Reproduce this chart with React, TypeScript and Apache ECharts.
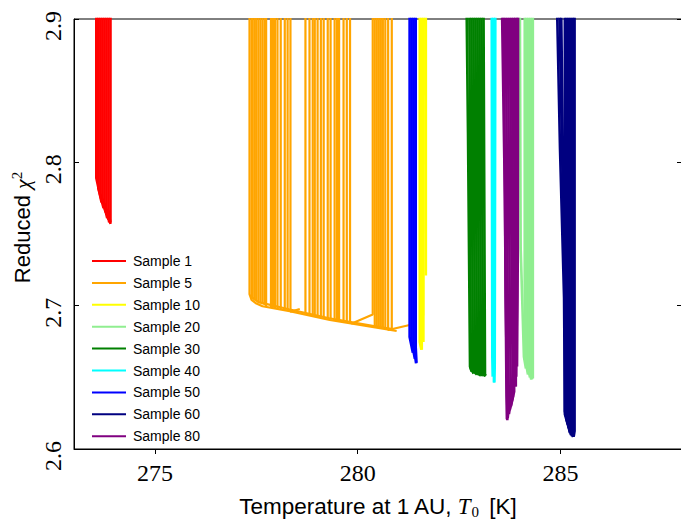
import React, { useEffect, useRef } from 'react';
import * as echarts from 'echarts';

const xTicks = [275, 280, 285];
const yTicks = [2.6, 2.7, 2.8, 2.9];

const sampleNames = ['Sample 1', 'Sample 5', 'Sample 10', 'Sample 20', 'Sample 30', 'Sample 40', 'Sample 50', 'Sample 60', 'Sample 80'];
const sampleColors = ['#ff0000', '#ffa500', '#ffff00', '#90ee90', '#008000', '#00ffff', '#0000ff', '#000080', '#800080'];

// Each trajectory: list of [T0, reduced chi2]
const sample1 = [
  [[273.55, 3.0], [273.55, 2.789], [273.68, 2.772]],
  [[273.60, 3.0], [273.60, 2.782], [273.73, 2.768]],
  [[273.65, 3.0], [273.65, 2.778], [273.78, 2.765]],
  [[273.70, 3.0], [273.70, 2.775], [273.82, 2.761]],
  [[273.75, 3.0], [273.75, 2.772], [273.85, 2.760]],
  [[273.80, 3.0], [273.80, 2.768], [273.87, 2.758]],
  [[273.85, 3.0], [273.85, 2.767], [273.90, 2.757]],
  [[273.90, 3.0], [273.90, 2.765], [273.90, 2.758]],
];

const sample5 = [
  [[277.33, 3.0], [277.33, 2.708], [277.38, 2.704], [277.50, 2.7015], [277.65, 2.6996], [278.32, 2.6962], [279.31, 2.690], [280.47, 2.6846], [280.96, 2.6823]],
  [[277.38, 3.0], [277.38, 2.706], [277.55, 2.7025], [278.30, 2.6975], [279.30, 2.6912], [280.40, 2.6858], [280.90, 2.6835]],
  [[277.41, 3.0], [277.41, 2.7044]],
  [[277.46, 3.0], [277.46, 2.7038]],
  [[277.50, 3.0], [277.50, 2.7031]],
  [[277.55, 3.0], [277.55, 2.7024]],
  [[277.60, 3.0], [277.60, 2.7017]],
  [[277.65, 3.0], [277.65, 2.7010]],
  [[277.70, 3.0], [277.70, 2.7003]],
  [[277.74, 3.0], [277.74, 2.6996]],
  [[277.86, 3.0], [277.86, 2.6989]],
  [[277.91, 3.0], [277.91, 2.6986]],
  [[277.96, 3.0], [277.96, 2.6982]],
  [[278.02, 3.0], [278.02, 2.6979]],
  [[278.10, 3.0], [278.10, 2.6975]],
  [[278.20, 3.0], [278.20, 2.6968]],
  [[278.27, 3.0], [278.27, 2.6962]],
  [[278.34, 3.0], [278.34, 2.6958], [278.57, 2.6977]],
  [[278.71, 3.0], [278.71, 2.6941]],
  [[278.81, 3.0], [278.81, 2.6934]],
  [[278.89, 3.0], [278.89, 2.6930]],
  [[278.94, 3.0], [278.94, 2.6927]],
  [[279.01, 3.0], [279.01, 2.6920]],
  [[279.09, 3.0], [279.09, 2.6917]],
  [[279.16, 3.0], [279.16, 2.6913]],
  [[279.26, 3.0], [279.26, 2.6906]],
  [[279.33, 3.0], [279.33, 2.6903]],
  [[279.43, 3.0], [279.43, 2.6899]],
  [[279.49, 3.0], [279.49, 2.6892]],
  [[279.54, 3.0], [279.54, 2.6889]],
  [[279.65, 3.0], [279.65, 2.6886]],
  [[279.73, 3.0], [279.73, 2.6879]],
  [[279.81, 3.0], [279.81, 2.6875]],
  [[280.37, 3.0], [280.37, 2.6939], [279.84, 2.6874]],
  [[280.42, 3.0], [280.42, 2.6851]],
  [[280.47, 3.0], [280.47, 2.6851]],
  [[280.52, 3.0], [280.52, 2.6844]],
  [[280.57, 3.0], [280.57, 2.6844]],
  [[280.62, 3.0], [280.62, 2.6837]],
  [[280.68, 3.0], [280.68, 2.6837]],
  [[280.75, 3.0], [280.75, 2.6830], [281.28, 2.6865]],
  [[280.84, 3.0], [280.84, 2.6827]],
];

const sample10 = [
  [[281.53, 3.0], [281.53, 2.6747], [281.57, 2.6692]],
  [[281.58, 3.0], [281.58, 2.6713], [281.58, 2.6692]],
  [[281.63, 3.0], [281.62, 2.6747]],
  [[281.68, 3.0], [281.68, 2.721]],
];

const sample20 = [
  [[283.99, 3.0], [284.02, 2.7404], [284.10, 2.6644], [284.15, 2.6561]],
  [[284.12, 3.0], [284.12, 2.6644], [284.20, 2.6519]],
  [[284.17, 3.0], [284.17, 2.6609], [284.25, 2.6499]],
  [[284.22, 3.0], [284.22, 2.6575], [284.28, 2.6485]],
  [[284.27, 3.0], [284.27, 2.6540], [284.30, 2.6485]],
  [[284.32, 3.0], [284.32, 2.6519], [284.32, 2.6492]],
];

const sample30 = [
  [[282.65, 3.0], [282.72, 2.821], [282.77, 2.6575], [282.81, 2.6540]],
  [[282.74, 3.0], [282.79, 2.6561], [282.86, 2.6526]],
  [[282.79, 3.0], [282.84, 2.6547], [282.94, 2.6519]],
  [[282.84, 3.0], [282.89, 2.6540], [282.99, 2.6519]],
  [[282.89, 3.0], [282.94, 2.6533], [283.04, 2.6512]],
  [[282.94, 3.0], [282.99, 2.6533], [283.09, 2.6512]],
  [[282.99, 3.0], [283.04, 2.6533], [283.14, 2.6509]],
  [[283.04, 3.0], [283.09, 2.6526], [283.16, 2.6509]],
  [[283.09, 3.0], [283.14, 2.6519], [283.16, 2.6512]],
];

const sample40 = [
  [[283.30, 3.0], [283.32, 2.6644], [283.33, 2.6505]],
  [[283.35, 3.0], [283.36, 2.6464]],
  [[283.40, 3.0], [283.38, 2.6575], [283.37, 2.6464]],
];

const sample50 = [
  [[281.28, 3.0], [281.28, 2.6782], [281.36, 2.6671]],
  [[281.33, 3.0], [281.33, 2.6747], [281.41, 2.6630]],
  [[281.38, 3.0], [281.38, 2.6713], [281.44, 2.6597]],
  [[281.43, 3.0], [281.43, 2.6713], [281.45, 2.6602]],
];

const sample60 = [
  [[284.85, 3.0], [284.99, 2.8095], [285.09, 2.7058], [285.11, 2.6264], [285.24, 2.6112]],
  [[284.91, 3.0], [285.04, 2.8095], [285.11, 2.7058], [285.14, 2.6229], [285.26, 2.6098]],
  [[284.98, 3.0], [285.06, 2.8095], [285.14, 2.7058], [285.16, 2.6195], [285.29, 2.6091]],
  [[285.11, 3.0], [285.11, 2.6243], [285.24, 2.6112]],
  [[285.16, 3.0], [285.16, 2.6215], [285.29, 2.6091]],
  [[285.21, 3.0], [285.21, 2.6195], [285.31, 2.6084]],
  [[285.26, 3.0], [285.26, 2.6174], [285.32, 2.6084]],
  [[285.31, 3.0], [285.31, 2.6146], [285.33, 2.6084]],
  [[285.35, 3.0], [285.35, 2.6126], [285.33, 2.6091]],
];

const sample80 = [
  [[283.51, 3.0], [283.63, 2.7749], [283.67, 2.6367], [283.68, 2.6208]],
  [[283.58, 3.0], [283.65, 2.7058], [283.69, 2.6298], [283.69, 2.6201]],
  [[283.63, 3.0], [283.70, 2.7058], [283.73, 2.6298], [283.70, 2.6215]],
  [[283.68, 3.0], [283.75, 2.7058], [283.78, 2.6333], [283.73, 2.6243]],
  [[283.73, 3.0], [283.80, 2.7058], [283.83, 2.6367], [283.75, 2.6270]],
  [[283.78, 3.0], [283.84, 2.7058], [283.86, 2.6402], [283.78, 2.6298]],
  [[283.83, 3.0], [283.88, 2.7058], [283.89, 2.6436]],
  [[283.88, 3.0], [283.90, 2.7058], [283.90, 2.6436]],
  [[283.93, 3.0], [283.93, 2.7058], [283.91, 2.6505]],
  [[283.96, 3.0], [283.95, 2.7404], [283.93, 2.6575]],
];

const samples = [sample1, sample5, sample10, sample20, sample30, sample40, sample50, sample60, sample80];

export default function App() {
  const ref = useRef<HTMLDivElement>(null);
  useEffect(() => {
    const chart = echarts.init(ref.current as HTMLDivElement, null, { renderer: 'svg' });
    const series: any[] = [];
    samples.forEach((trajs, i) => {
      trajs.forEach((t) => {
        series.push({
          type: 'line',
          name: sampleNames[i],
          data: t,
          symbol: 'none',
          showSymbol: false,
          clip: true,
          silent: true,
          lineStyle: { color: sampleColors[i], width: i === 1 ? 2.2 : 2.6 },
          itemStyle: { color: sampleColors[i] },
          emphasis: { disabled: true },
        });
      });
    });
    const sans = 'Liberation Sans';
    const serif = 'Liberation Serif';
    chart.setOption({
      animation: false,
      backgroundColor: '#fff',
      grid: { left: 74, right: 8, top: 19, bottom: 71, show: true, borderColor: '#000', borderWidth: 1, backgroundColor: 'transparent' },
      legend: {
        orient: 'vertical',
        left: 87,
        top: 249,
        icon: 'rect',
        itemWidth: 34,
        itemHeight: 2,
        itemGap: 7.9,
        data: sampleNames,
        textStyle: { fontFamily: sans, fontSize: 14, color: '#000', lineHeight: 14, padding: [0, 0, 0, 2] },
        selectedMode: false,
      },
      xAxis: {
        type: 'value',
        min: 273,
        max: 288,
        interval: 1,
        name: '{a|Temperature at 1\u2009AU, }{i|T}{s|0}{a| [K]}',
        nameLocation: 'middle',
        nameGap: 44,
        nameTextStyle: {
          rich: {
            a: { fontFamily: sans, fontSize: 22.5, color: '#000', lineHeight: 26 },
            i: { fontFamily: serif, fontStyle: 'italic', fontSize: 23, color: '#000', lineHeight: 26, padding: [0, 1, 0, 0] },
            s: { fontFamily: serif, fontSize: 15, color: '#000', lineHeight: 15, verticalAlign: 'bottom', padding: [0, 4, 0, 0] },
          },
        },
        axisLine: { show: true, lineStyle: { color: '#000', width: 1 } },
        axisTick: { show: true, inside: false, length: 5, customValues: xTicks, lineStyle: { color: '#000' } },
        axisLabel: { customValues: xTicks, fontFamily: serif, fontSize: 24, color: '#000', margin: 12, formatter: (v: number) => String(v) },
        splitLine: { show: false },
      },
      yAxis: [
        {
          type: 'value',
          min: 2.6,
          max: 2.9,
          interval: 0.1,
          name: '{a|Reduced }{c|\u03c7}{s|2}',
          nameLocation: 'middle',
          nameRotate: 90,
          nameGap: 38,
          nameTextStyle: {
            padding: [0, 0, 0, 13],
            rich: {
              a: { fontFamily: sans, fontSize: 22, color: '#000', lineHeight: 26 },
              c: { fontFamily: serif, fontStyle: 'italic', fontSize: 22, color: '#000', lineHeight: 26 },
              s: { fontFamily: serif, fontSize: 15, color: '#000', lineHeight: 15, verticalAlign: 'top' },
            },
          },
          axisLine: { show: true, lineStyle: { color: '#000', width: 1 } },
          axisTick: { show: true, inside: true, length: 5, customValues: yTicks, lineStyle: { color: '#000' } },
          axisLabel: {
            customValues: yTicks,
            rotate: 90,
            margin: 9,
            padding: [0, 14, 0, 0],
            fontFamily: serif,
            fontSize: 24,
            color: '#000',
            formatter: (v: number) => v.toFixed(1),
          },
          splitLine: { show: false },
        },
        {
          type: 'value',
          position: 'right',
          min: 2.6,
          max: 2.9,
          interval: 0.1,
          axisLine: { show: false },
          axisTick: { show: true, inside: true, length: 5, customValues: yTicks, lineStyle: { color: '#000' } },
          axisLabel: { show: false },
          splitLine: { show: false },
        },
      ],
      series,
    });
    return () => chart.dispose();
  }, []);
  return (
    <div style={{ position: 'fixed', left: 0, top: 0, width: 681, height: 524, overflow: 'hidden', background: '#fff' }}>
      <div ref={ref} style={{ width: 690, height: 524 }} />
    </div>
  );
}
